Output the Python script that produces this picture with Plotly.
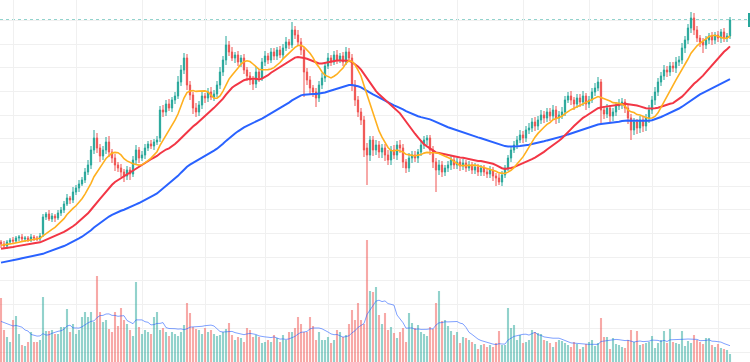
import pandas as pd
import plotly.graph_objects as go

# ---------------- data (daily bars) ----------------
# closes before the visible window, used only to warm up the moving averages
lead_close = [195, 197, 196, 198, 200, 199, 201, 203, 202, 204,
              205, 204, 207, 208, 207, 209, 211, 210, 212, 213,
              212, 215, 216, 215, 217, 219, 218, 220, 221, 220,
              223, 224, 223, 225, 227, 226, 228, 229, 228, 231,
              232, 231, 233, 235, 234, 236, 237, 236, 239, 240,
              239, 241, 242, 241, 243,
              244, 246, 245, 247, 246, 248, 247, 249, 248, 250,
              249, 251, 250, 252, 251, 253, 252, 254, 253, 255,
              254, 256, 255, 257, 256]
lead_volume = [4.5, 3.8, 3.0, 5.2, 4.0, 3.5, 2.8, 4.4, 3.0]

open_ = [258, 256, 254, 258, 260, 259, 262, 263, 261, 262, 260, 263, 262, 261,
         266, 283, 286, 281, 284, 282, 287,
         290, 296, 302, 300, 308, 312, 316, 320, 328, 335,
         350, 362, 352, 344, 350, 358, 348, 342, 335, 332, 328, 324, 330,
         326, 340, 350, 342, 345, 352, 356, 354, 358,
         362, 390, 388, 396, 392, 400, 404, 418, 430, 442,
         415, 405, 392, 388, 395, 404, 402, 408, 403, 406,
         415, 428, 440, 455, 448, 442, 445, 438, 442, 430, 424,
         420, 416, 428, 422, 438, 444, 440, 448, 444, 450, 445, 452, 458, 455,
         470, 465, 458, 450, 428, 420, 412, 408, 402, 415,
         422, 434, 442, 438, 445, 440, 444, 438, 448, 442,
         415, 400, 388, 380, 352, 345, 360, 350, 355, 348,
         352, 345, 340, 350, 345, 355, 352, 338, 332, 342, 345, 342, 348, 355, 360,
         362, 350, 338, 330, 335, 328, 332, 335, 340, 335, 338, 334, 337, 332, 335, 330, 333, 328,
         332, 328, 326, 330, 324, 322, 318, 325,
         332, 342, 350, 355, 360, 365, 362, 370, 372, 378, 374, 380, 385, 382, 388, 384, 390,
         382, 385, 388, 400, 404, 400, 396, 402, 398, 404, 396, 400, 408, 412,
         418, 390, 386, 392, 384, 388, 394, 396, 398, 392, 382, 370, 378, 372, 380,
         374, 382, 390, 400, 408, 418, 424, 430, 428, 434, 432, 438, 440, 452,
         460, 472, 482, 470, 462, 458, 455, 460, 464, 460, 465, 462, 468, 462, 464]

close = [256, 254, 258, 260, 259, 262, 263, 261, 262, 260, 263, 262, 261, 264,
         283, 286, 281, 284, 282, 287, 290,
         296, 302, 300, 308, 312, 316, 320, 328, 335, 350,
         362, 352, 344, 350, 358, 348, 342, 335, 332, 328, 324, 330, 326,
         340, 350, 342, 345, 352, 356, 354, 358, 360,
         390, 388, 396, 392, 400, 404, 418, 430, 442, 415,
         405, 392, 388, 395, 404, 402, 408, 403, 406, 415,
         428, 440, 455, 448, 442, 445, 438, 442, 430, 424, 420,
         416, 428, 422, 438, 444, 440, 448, 444, 450, 445, 452, 458, 455, 470,
         465, 458, 450, 428, 420, 412, 408, 402, 415, 422,
         434, 442, 438, 445, 440, 444, 438, 448, 442, 415,
         400, 388, 380, 350, 345, 360, 350, 355, 348, 352,
         345, 340, 350, 345, 355, 352, 338, 332, 342, 345, 342, 348, 355, 360, 362,
         350, 338, 330, 335, 328, 332, 335, 340, 335, 338, 334, 337, 332, 335, 330, 333, 328, 332,
         328, 326, 330, 324, 322, 318, 325, 332,
         342, 350, 355, 360, 365, 362, 370, 372, 378, 374, 380, 385, 382, 388, 384, 390, 382,
         385, 388, 400, 404, 400, 396, 402, 398, 404, 396, 400, 408, 412, 418,
         390, 386, 392, 384, 388, 394, 396, 398, 392, 382, 370, 378, 372, 380, 374,
         382, 390, 400, 408, 418, 424, 430, 428, 434, 432, 438, 440, 452, 460,
         472, 482, 470, 462, 458, 455, 460, 464, 460, 465, 462, 468, 462, 464, 480]

upper_wick = [2, 3, 2, 2, 3, 2, 2, 3, 2, 2, 3, 2, 2, 3,
              3, 2, 4, 3, 2, 3, 3,
              3, 4, 2, 5, 3, 4, 3, 4, 5, 4,
              8, 5, 4, 4, 5, 6, 3, 4, 3, 4, 3, 4, 3,
              4, 5, 3, 4, 4, 3, 4, 3, 4,
              4, 5, 4, 5, 3, 4, 6, 5, 5, 4,
              4, 3, 5, 4, 4, 3, 4, 5, 4, 4,
              5, 4, 9, 4, 5, 3, 4, 3, 4, 3, 4,
              4, 5, 3, 4, 5, 3, 4, 4, 3, 4, 4, 5, 3, 8,
              4, 5, 4, 3, 4, 4, 3, 4, 4, 5,
              4, 5, 3, 4, 5, 3, 4, 5, 4, 4,
              5, 4, 4, 4, 5, 4, 4, 5, 4, 4,
              4, 5, 4, 5, 4, 5, 4, 3, 5, 4, 4, 3, 4, 4, 3,
              3, 4, 4, 5, 4, 3, 4, 4, 3, 4, 3, 4, 3, 4, 3, 4, 3, 3,
              3, 3, 4, 3, 3, 4, 4, 3,
              3, 4, 4, 4, 5, 4, 4, 5, 4, 5, 4, 5, 4, 4, 4, 5, 4,
              4, 5, 4, 4, 5, 3, 4, 4, 5, 3, 4, 4, 5, 5,
              3, 4, 4, 3, 4, 4, 5, 4, 3, 4, 4, 4, 3, 4, 4,
              4, 5, 4, 5, 4, 4, 5, 4, 4, 4, 5, 4, 5, 4,
              4, 6, 5, 4, 3, 4, 4, 3, 4, 3, 4, 3, 4, 3, 3]

lower_wick = [4, 3, 3, 2, 3, 2, 3, 2, 3, 2, 2, 3, 2, 2,
              3, 3, 2, 3, 4, 2, 3,
              3, 2, 4, 3, 3, 4, 2, 3, 3, 4,
              4, 5, 6, 4, 4, 5, 5, 6, 4, 5, 6, 4, 6,
              3, 4, 5, 3, 4, 3, 3, 4, 3,
              4, 5, 4, 3, 4, 4, 3, 4, 4, 5,
              5, 6, 5, 4, 4, 5, 4, 3, 4, 3,
              4, 4, 5, 4, 3, 5, 4, 5, 4, 5, 5,
              6, 4, 4, 3, 4, 4, 3, 4, 4, 3, 4, 3, 4, 3,
              4, 4, 5, 25, 5, 6, 5, 9, 4, 4,
              4, 3, 4, 3, 4, 3, 4, 3, 4, 6,
              6, 5, 5, 7, 30, 6, 6, 5, 6, 6,
              6, 5, 5, 4, 5, 5, 6, 5, 4, 5, 4, 5, 4, 4, 5,
              5, 6, 22, 5, 5, 4, 4, 5, 4, 4, 5, 4, 4, 3, 4, 4, 4, 4,
              4, 4, 4, 5, 8, 3, 4, 3,
              3, 4, 3, 4, 3, 5, 4, 4, 4, 5, 4, 4, 5, 4, 5, 4, 6,
              5, 4, 4, 3, 5, 6, 4, 5, 4, 6, 4, 3, 4, 3,
              13, 5, 4, 6, 5, 4, 4, 5, 5, 6, 10, 5, 6, 5, 6,
              5, 5, 4, 5, 4, 4, 4, 5, 4, 4, 5, 4, 4, 5,
              4, 5, 5, 4, 5, 8, 4, 4, 5, 4, 4, 5, 4, 4, 3]

volume = [6.4, 3.2, 2.5, 2.0, 4.2, 4.6, 2.8, 1.7, 1.6, 2.0, 3.0, 2.0, 2.0, 2.2,
          6.5, 3.1, 3.1, 3.2, 2.8, 2.8, 3.5,
          3.5, 5.3, 3.0, 3.8, 2.8, 3.2, 4.5, 5.0, 4.5, 5.0,
          4.0, 8.6, 5.0, 4.0, 4.2, 3.3, 3.0, 5.0, 3.6, 5.4, 4.2, 3.8, 3.2,
          2.6, 8.0, 3.5, 2.8, 3.2, 3.0, 2.8, 4.5, 5.0,
          3.2, 3.4, 3.0, 2.6, 3.0, 2.8, 2.6, 3.0, 3.7, 5.9,
          4.9, 3.5, 3.3, 3.2, 2.8, 3.4, 3.0, 3.2, 2.8, 2.6,
          2.7, 3.0, 3.3, 3.9, 2.7, 2.2, 2.5, 2.4, 2.0, 3.4, 3.2,
          2.5, 2.7, 2.5, 1.9, 2.0, 2.2, 2.0, 2.7, 2.4, 2.0, 2.7, 2.2, 3.0, 3.0,
          3.4, 4.5, 3.8, 3.0, 3.0, 4.5, 3.6, 2.2, 3.0, 2.2,
          2.2, 2.5, 1.9, 2.2, 3.2, 3.0, 2.5, 2.7, 3.8, 5.2,
          4.2, 5.9, 4.2, 3.8, 12.2, 7.1, 7.0, 7.5, 4.7, 3.8,
          4.9, 3.2, 3.5, 2.9, 2.4, 3.0, 3.4, 2.0, 4.9, 3.9, 3.4, 3.7, 3.0, 2.8, 2.6,
          3.5, 3.3, 5.9, 7.1, 4.1, 4.2, 3.6, 3.1, 2.7, 3.0, 1.9, 2.5, 2.4, 2.2, 2.0, 1.8, 1.3, 1.7,
          1.8, 1.5, 1.7, 1.5, 1.9, 3.1, 1.7, 1.7,
          5.4, 3.4, 3.7, 2.2, 2.7, 1.9, 2.0, 2.2, 3.2, 3.0, 2.9, 2.8, 2.2, 2.1, 1.9, 1.5, 2.0,
          2.2, 2.1, 1.9, 1.7, 1.5, 2.0, 1.8, 1.3, 1.5, 1.8, 2.0, 2.2, 1.6, 1.9,
          4.4, 2.5, 2.5, 1.3, 2.4, 1.8, 1.7, 1.5, 1.4, 2.2, 3.2, 2.0, 3.1, 1.7, 1.8,
          1.9, 2.0, 2.6, 1.4, 1.9, 2.2, 3.1, 1.9, 3.3, 2.0, 1.9, 1.8, 3.1, 1.6,
          2.1, 1.9, 2.7, 2.2, 2.0, 1.8, 2.4, 2.4, 1.7, 1.5, 1.8, 1.4, 1.3, 1.2, 0.8]

month_start_idx = [4, 25, 47, 68, 88, 109, 131, 152, 174, 196, 217, 239]

MA_FAST, MA_MID, MA_SLOW, VOL_MA = 10, 25, 66, 10

# ---------------- derived ----------------
n = len(close)
assert len(open_) == n and len(upper_wick) == n and len(lower_wick) == n and len(volume) == n
idx = list(range(n))
high = [max(o, c) + w for o, c, w in zip(open_, close, upper_wick)]
low = [min(o, c) - w for o, c, w in zip(open_, close, lower_wick)]

full_close = pd.Series(lead_close + close, dtype=float)
L = len(lead_close)
ma_fast = full_close.rolling(MA_FAST).mean().iloc[L:].tolist()
ma_mid = full_close.rolling(MA_MID).mean().iloc[L:].tolist()
ma_slow = full_close.ewm(span=MA_SLOW, adjust=False).mean().iloc[L:].tolist()
full_vol = pd.Series(lead_volume + volume, dtype=float)
vol_ma = full_vol.rolling(VOL_MA).mean().iloc[len(lead_volume):].tolist()

UP, DOWN = "#26a69a", "#ef5350"
vol_colors = ["rgba(38,166,154,0.5)" if c >= o else "rgba(239,83,80,0.5)"
              for o, c in zip(open_, close)]

fig = go.Figure()
fig.add_trace(go.Bar(x=idx, y=volume, marker_color=vol_colors, marker_line_width=0,
                     yaxis="y2", showlegend=False))
fig.add_trace(go.Scatter(x=idx, y=vol_ma, mode="lines", yaxis="y2",
                         line=dict(color="rgba(41,98,255,0.6)", width=1), showlegend=False))
fig.add_trace(go.Candlestick(x=idx, open=open_, high=high, low=low, close=close,
                             increasing=dict(line=dict(color=UP, width=1), fillcolor=UP),
                             decreasing=dict(line=dict(color=DOWN, width=1), fillcolor=DOWN),
                             whiskerwidth=0, showlegend=False))
fig.add_trace(go.Scatter(x=idx, y=ma_slow, mode="lines", line=dict(color="#2962ff", width=2),
                         showlegend=False))
fig.add_trace(go.Scatter(x=idx, y=ma_mid, mode="lines", line=dict(color="#f23645", width=2),
                         showlegend=False))
fig.add_trace(go.Scatter(x=idx, y=ma_fast, mode="lines", line=dict(color="#ffb01f", width=1.6),
                         showlegend=False))

last_price = close[-1]
fig.add_shape(type="line", xref="paper", x0=0, x1=1, yref="y", y0=last_price, y1=last_price,
              line=dict(color=UP, width=1, dash="dot"), layer="below")
fig.add_shape(type="rect", xref="paper", x0=0.9973, x1=1.0, yref="y",
              y0=last_price - 7, y1=last_price + 7, fillcolor=UP, line_width=0)

GRID = "#f0f0f0"
fig.update_layout(
    width=750, height=362, margin=dict(l=0, r=0, t=0, b=0, pad=0, autoexpand=False),
    paper_bgcolor="white", plot_bgcolor="white",
    bargap=0.3, boxgap=0.4,
    xaxis=dict(range=[-0.333, 249.667], tickvals=month_start_idx, showticklabels=False,
               ticks="", showgrid=True, gridcolor=GRID, gridwidth=1, zeroline=False,
               rangeslider=dict(visible=False), showline=False),
    yaxis=dict(range=[138, 500], tick0=148, dtick=23.69, showticklabels=False, ticks="",
               showgrid=True, gridcolor=GRID, gridwidth=1, zeroline=False, showline=False),
    yaxis2=dict(range=[0, 36.2], overlaying="y", showgrid=False, showticklabels=False,
                zeroline=False, showline=False),
    hovermode=False,
)

fig.write_html("out.html", config={"displayModeBar": False},
               post_script="document.body.style.margin='0';document.body.style.overflow='hidden';")
